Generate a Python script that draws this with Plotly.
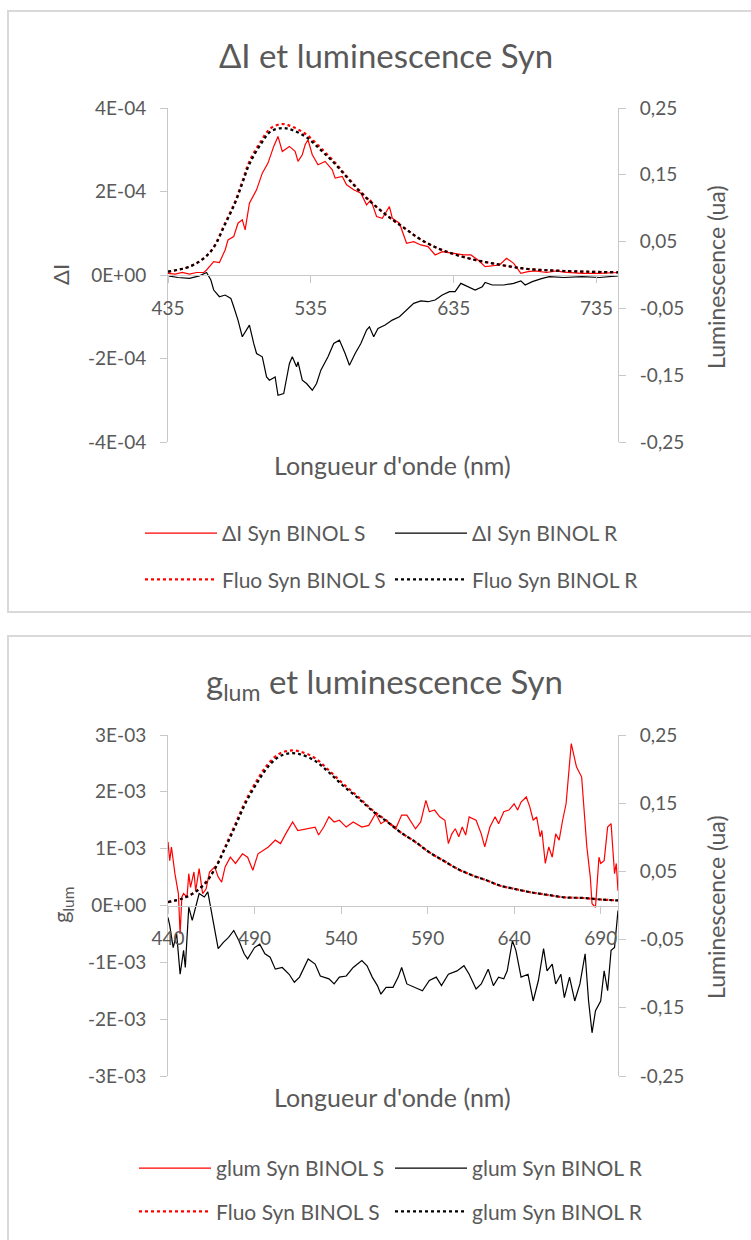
import plotly.graph_objects as go

W, H = 751, 1240
FONT = "Lato, Noto Sans, sans-serif"
TXT = "#595959"
AXIS = "#c8c8c8"
FRAME = "#d9d9d9"
RED = "#ff0000"
BLACK = "#000000"

# ---------------- Chart 1 : ΔI and luminescence ----------------
# ΔI values are given in units of 1e-4
DI_UNIT = 1e-4
wl_di_s = [435, 440, 445, 450, 455, 460, 462, 467, 471, 475, 477, 481, 484, 487, 489, 492,
           497, 501, 505, 509, 512, 515, 520, 524, 526, 529, 531, 533, 536, 540, 545, 550,
           552, 557, 560, 565, 570, 574, 577, 581, 585, 590, 592, 597, 602, 607, 612, 617,
           622, 627, 635, 642, 647, 652, 657, 662, 667, 672, 677, 682, 687, 692, 700, 707,
           712, 725, 737, 750]
di_s = [0.04, 0.02, 0.06, 0.02, 0.06, 0.06, 0.12, 0.32, 0.30, 0.60, 0.84, 0.92, 1.24, 1.32, 1.08, 1.72,
        2.04, 2.44, 2.68, 3.08, 3.32, 2.96, 3.08, 2.96, 2.72, 2.88, 3.12, 3.24, 2.88, 2.64, 2.72, 2.52,
        2.32, 2.36, 2.16, 2.04, 1.96, 1.68, 1.80, 1.40, 1.36, 1.64, 1.36, 1.24, 0.76, 0.80, 0.72, 0.68,
        0.48, 0.56, 0.52, 0.48, 0.48, 0.36, 0.20, 0.22, 0.24, 0.40, 0.28, 0.04, 0.08, 0.10, 0.06, 0.10,
        0.07, 0.04, 0.04, 0.06]

wl_di_r = [435, 442, 450, 457, 462, 465, 467, 471, 475, 479, 481, 484, 487, 490, 492, 495,
           497, 501, 504, 506, 510, 512, 516, 520, 522, 525, 526, 529, 532, 536, 539, 542,
           547, 551, 555, 559, 562, 566, 570, 574, 576, 579, 582, 587, 592, 597, 602, 607,
           612, 617, 622, 627, 632, 636, 640, 645, 650, 655, 657, 662, 670, 677, 682, 685,
           690, 697, 702, 712, 725, 737, 750]
di_r = [-0.02, -0.06, -0.08, -0.02, 0.06, -0.12, -0.36, -0.52, -0.48, -0.56, -0.76, -1.08, -1.48, -1.32, -1.20, -1.64,
        -1.88, -1.96, -2.44, -2.52, -2.44, -2.88, -2.84, -2.12, -1.96, -2.20, -2.08, -2.52, -2.60, -2.76, -2.60, -2.28,
        -1.96, -1.64, -1.56, -1.88, -2.16, -1.88, -1.64, -1.32, -1.24, -1.48, -1.28, -1.20, -1.08, -1.00, -0.84, -0.68,
        -0.62, -0.64, -0.60, -0.48, -0.40, -0.40, -0.20, -0.28, -0.36, -0.28, -0.18, -0.24, -0.24, -0.20, -0.14, -0.24,
        -0.16, -0.08, -0.04, -0.06, -0.04, -0.06, -0.02]

wl_fluo1 = [435, 450, 460, 467, 475, 482, 487, 492, 500, 507, 515, 522, 532, 542, 552, 562,
            572, 582, 592, 602, 612, 625, 637, 650, 662, 675, 687, 712, 750]
fluo1_s = [0.005, 0.0125, 0.025, 0.042, 0.078, 0.110, 0.140, 0.170, 0.200, 0.220, 0.226, 0.222, 0.210, 0.190, 0.168, 0.143,
           0.120, 0.100, 0.083, 0.068, 0.053, 0.039, 0.030, 0.0225, 0.0175, 0.0125, 0.009, 0.006, 0.004]
fluo1_r = [0.005, 0.0125, 0.025, 0.041, 0.076, 0.108, 0.137, 0.166, 0.196, 0.215, 0.220, 0.217, 0.206, 0.187, 0.166, 0.142,
           0.119, 0.100, 0.083, 0.068, 0.053, 0.039, 0.030, 0.0225, 0.0175, 0.0125, 0.009, 0.006, 0.004]

# ---------------- Chart 2 : glum and luminescence ----------------
# glum values are given in units of 1e-3
G_UNIT = 1e-3
wl_g_s = [440, 441, 442, 443, 444, 446, 447, 448, 449, 451, 452, 453, 455, 456, 458, 460,
          462, 464, 467, 469, 471, 473, 476, 479, 483, 486, 489, 492, 495, 498, 502, 505,
          508, 512, 515, 521, 525, 527, 530, 533, 536, 539, 543, 547, 552, 556, 560, 563,
          566, 569, 572, 575, 578, 583, 586, 589, 591, 594, 597, 600, 602, 604, 606, 608,
          610, 612, 614, 618, 621, 623, 626, 629, 631, 634, 637, 640, 642, 644, 647, 649,
          651, 653, 655, 656, 658, 660, 662, 664, 666, 668, 670, 673, 676, 679, 682, 684,
          685, 687, 689, 690, 692, 694, 696, 698, 699, 700]
g_s = [1.12, 0.79, 1.03, 0.79, 0.56, 0.21, -0.50, 0.15, 0.21, 0.15, 0.56, 0.32, 0.59, 0.26, 0.65, 0.21,
       0.29, 0.59, 0.68, 0.50, 0.41, 0.68, 0.85, 0.74, 0.91, 0.85, 0.62, 0.91, 0.97, 1.03, 1.15, 1.09,
       1.26, 1.47, 1.32, 1.35, 1.38, 1.24, 1.38, 1.56, 1.47, 1.50, 1.38, 1.47, 1.38, 1.41, 1.62, 1.44,
       1.50, 1.41, 1.38, 1.59, 1.59, 1.35, 1.47, 1.85, 1.65, 1.68, 1.56, 1.50, 1.09, 1.26, 1.35, 1.21,
       1.38, 1.24, 1.56, 1.50, 1.26, 1.03, 1.38, 1.56, 1.44, 1.65, 1.68, 1.79, 1.68, 1.82, 1.91, 1.74,
       1.50, 1.56, 1.21, 1.32, 0.74, 1.03, 0.85, 1.26, 1.15, 1.50, 1.79, 2.85, 2.44, 2.26, 1.03, 0.50,
       0.03, -0.03, 0.85, 0.74, 0.79, 1.38, 1.44, 0.56, 0.74, 0.26]

wl_g_r = [440, 441, 443, 445, 447, 449, 450, 452, 454, 455, 458, 461, 463, 466, 469, 472,
          475, 478, 481, 484, 486, 490, 493, 496, 499, 502, 506, 510, 513, 516, 521, 525,
          528, 533, 536, 539, 543, 547, 552, 555, 558, 561, 563, 566, 570, 573, 575, 578,
          583, 587, 591, 595, 598, 602, 607, 611, 614, 618, 621, 625, 628, 631, 634, 636,
          639, 641, 644, 648, 651, 654, 657, 659, 662, 664, 667, 669, 672, 675, 678, 681,
          683, 685, 687, 690, 692, 694, 696, 698, 700]
g_r = [-0.21, -0.35, -0.74, -0.50, -1.21, -0.79, -1.09, -0.03, -0.26, -0.15, 0.21, 0.15, 0.24, -0.26, -0.76, -0.65,
       -0.56, -0.44, -0.62, -0.85, -0.94, -0.74, -0.68, -0.85, -0.91, -1.12, -1.09, -1.21, -1.35, -1.26, -0.94, -1.03,
       -1.24, -1.29, -1.38, -1.26, -1.24, -1.09, -0.97, -1.06, -1.26, -1.41, -1.56, -1.44, -1.44, -1.26, -1.09, -1.38,
       -1.44, -1.50, -1.32, -1.26, -1.41, -1.21, -1.15, -1.06, -1.21, -1.47, -1.38, -1.12, -1.41, -1.26, -1.29, -1.15,
       -0.62, -0.79, -1.26, -1.21, -1.68, -1.32, -0.76, -1.15, -1.03, -1.38, -1.21, -1.62, -1.26, -1.68, -1.38, -0.85,
       -1.68, -2.24, -1.85, -1.68, -1.15, -1.50, -0.79, -0.74, -0.09]

wl_fluo2 = [440, 448, 454, 461, 467, 473, 479, 485, 492, 498, 504, 510, 516, 525, 533, 541,
            550, 558, 566, 574, 583, 591, 599, 607, 616, 624, 632, 640, 649, 659, 669, 680,
            690, 700]
fluo2_s = [0.005, 0.010, 0.017, 0.032, 0.054, 0.086, 0.120, 0.154, 0.186, 0.208, 0.222, 0.227, 0.226, 0.216, 0.198, 0.179,
           0.159, 0.140, 0.125, 0.108, 0.093, 0.078, 0.066, 0.054, 0.044, 0.037, 0.029, 0.0245, 0.0196, 0.0157, 0.012, 0.011,
           0.0088, 0.0074]
fluo2_r = [0.005, 0.010, 0.017, 0.031, 0.053, 0.084, 0.117, 0.151, 0.182, 0.204, 0.218, 0.223, 0.222, 0.212, 0.195, 0.176,
           0.157, 0.139, 0.124, 0.108, 0.093, 0.078, 0.066, 0.054, 0.044, 0.037, 0.029, 0.0245, 0.0196, 0.0157, 0.012, 0.011,
           0.0088, 0.0074]

# ---------------- Axis ticks ----------------
x1_ticks = [435, 535, 635, 735]
x2_ticks = [440, 490, 540, 590, 640, 690]
y1_ticks = [-4e-4, -2e-4, 0, 2e-4, 4e-4]
y1_text = ["-4E-04", "-2E-04", "0E+00", "2E-04", "4E-04"]
y3_ticks = [-3e-3, -2e-3, -1e-3, 0, 1e-3, 2e-3, 3e-3]
y3_text = ["-3E-03", "-2E-03", "-1E-03", "0E+00", "1E-03", "2E-03", "3E-03"]
lum_ticks = [-0.25, -0.15, -0.05, 0.05, 0.15, 0.25]
lum_text = ["-0,25", "-0,15", "-0,05", "0,05", "0,15", "0,25"]


def fx(px):
    return px / W


def fy(py):
    return 1 - py / H


fig = go.Figure()


def add_line(x, y, name, color, dotted, xa, ya, legend, group, scale=1.0):
    fig.add_trace(go.Scatter(
        x=x, y=[v * scale for v in y], name=name, mode="lines",
        line=dict(color=color, width=2.2 if dotted else 1.2,
                  dash="dot" if dotted else "solid",
                  shape="spline" if dotted else "linear"),
        xaxis=xa, yaxis=ya, legend=legend, legendgroup=group,
        hoverinfo="skip"))


# Chart 1 traces (draw order: ΔI S, ΔI R, Fluo S, Fluo R)
add_line(wl_di_s, di_s, "ΔI Syn BINOL S", RED, False, "x", "y", "legend", "a", DI_UNIT)
add_line(wl_di_r, di_r, "ΔI Syn BINOL R", BLACK, False, "x", "y", "legend2", "b", DI_UNIT)
add_line(wl_fluo1, fluo1_s, "Fluo Syn BINOL S", RED, True, "x", "y2", "legend", "c")
add_line(wl_fluo1, fluo1_r, "Fluo Syn BINOL R", BLACK, True, "x", "y2", "legend2", "d")

# Chart 2 traces
add_line(wl_g_s, g_s, "glum Syn BINOL S", RED, False, "x2", "y3", "legend3", "e", G_UNIT)
add_line(wl_g_r, g_r, "glum Syn BINOL R", BLACK, False, "x2", "y3", "legend4", "f", G_UNIT)
add_line(wl_fluo2, fluo2_s, "Fluo Syn BINOL S", RED, True, "x2", "y4", "legend3", "g")
add_line(wl_fluo2, fluo2_r, "glum Syn BINOL R", BLACK, True, "x2", "y4", "legend4", "h")

tickfont = dict(family=FONT, size=19, color=TXT)
xdom = [fx(168), fx(618)]
y1dom = [fy(442), fy(108)]
y2dom = [fy(1076), fy(735)]

common_y = dict(showgrid=False, zeroline=False, showline=True, linecolor=AXIS, linewidth=1,
                ticks="outside", ticklen=7, tickcolor=AXIS, tickfont=tickfont,
                ticklabelstandoff=10, fixedrange=True)
common_x = dict(showgrid=False, zeroline=False, showline=True, linecolor=AXIS, linewidth=1,
                ticks="outside", ticklen=7, tickcolor=AXIS, tickfont=tickfont,
                ticklabelstandoff=9, fixedrange=True, anchor="free")

fig.update_layout(
    xaxis=dict(domain=xdom, range=[435, 750], tickvals=x1_ticks,
               position=(y1dom[0] + y1dom[1]) / 2, **common_x),
    yaxis=dict(domain=y1dom, range=[-4e-4, 4e-4], tickvals=y1_ticks, ticktext=y1_text,
               anchor="x", side="left", **common_y),
    yaxis2=dict(range=[-0.25, 0.25], tickvals=lum_ticks, ticktext=lum_text,
                overlaying="y", anchor="x", side="right", **common_y),
    xaxis2=dict(domain=xdom, range=[440, 700], tickvals=x2_ticks,
                position=(y2dom[0] + y2dom[1]) / 2, **common_x),
    yaxis3=dict(domain=y2dom, range=[-3e-3, 3e-3], tickvals=y3_ticks, ticktext=y3_text,
                anchor="x2", side="left", **common_y),
    yaxis4=dict(range=[-0.25, 0.25], tickvals=lum_ticks, ticktext=lum_text,
                overlaying="y3", anchor="x2", side="right", **common_y),
)

legfont = dict(family=FONT, size=21, color=TXT)


def legend_box(x, y, gap):
    return dict(x=fx(x), y=fy(y), xanchor="left", yanchor="top", orientation="v",
                itemwidth=72, tracegroupgap=gap, font=legfont,
                bgcolor="rgba(0,0,0,0)", borderwidth=0, itemclick=False, itemdoubleclick=False)


fig.update_layout(
    legend=legend_box(140, 513, 16),
    legend2=legend_box(390, 513, 16),
    legend3=legend_box(134, 1148, 13),
    legend4=legend_box(390, 1148, 13),
)

# Chart frames
frames = [(8, 11, 770, 612), (8, 636, 770, 1260)]
shapes = [dict(type="rect", xref="paper", yref="paper", x0=fx(a), y0=fy(b), x1=fx(c), y1=fy(d),
               line=dict(color=FRAME, width=2), fillcolor="rgba(0,0,0,0)", layer="below")
          for a, b, c, d in frames]


def note(text, x, y, size, angle=0):
    return dict(text=text, x=fx(x), y=fy(y), xref="paper", yref="paper", showarrow=False,
                textangle=angle, xanchor="center", yanchor="middle",
                font=dict(family=FONT, size=size, color=TXT))


annotations = [
    note("ΔI et luminescence Syn", 386, 55, 33),
    note("ΔI", 60, 275, 22, -90),
    note("Luminescence (ua)", 716, 277, 23, -90),
    note("Longueur d'onde (nm)", 393, 465, 25),
    note("g<sub>lum</sub> et luminescence Syn", 384, 683, 33),
    note("g<sub>lum</sub>", 62, 905, 22, -90),
    note("Luminescence (ua)", 716, 907, 23, -90),
    note("Longueur d'onde (nm)", 393, 1097, 25),
]

fig.update_layout(
    width=W, height=H, autosize=False,
    margin=dict(l=0, r=0, t=0, b=0, autoexpand=False),
    paper_bgcolor="white", plot_bgcolor="rgba(0,0,0,0)",
    shapes=shapes, annotations=annotations,
    font=dict(family=FONT, color=TXT),
    hovermode=False,
)

fig.write_html("out.html", config={"displayModeBar": False, "staticPlot": True})
